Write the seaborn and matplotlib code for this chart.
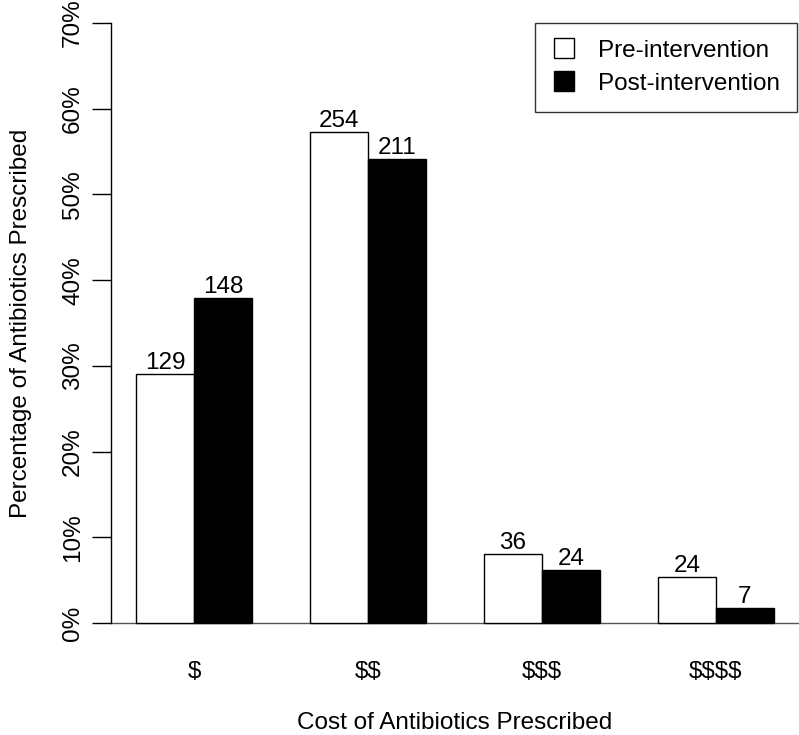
import numpy as np
import pandas as pd
import seaborn as sns
import matplotlib.pyplot as plt
from matplotlib.lines import Line2D

## Values
cost_levels = ['$', '$$', '$$$', '$$$$']
pre_pct = [29.1, 57.3, 8.1, 5.4]
post_pct = [37.9, 54.1, 6.2, 1.8]
pre_counts = [129, 254, 36, 24]
post_counts = [148, 211, 24, 7]
groups = ['Pre-intervention', 'Post-intervention']

df = pd.DataFrame({
    'cost': cost_levels * 2,
    'pct': pre_pct + post_pct,
    'period': [groups[0]] * 4 + [groups[1]] * 4,
})

sns.set_style('white')
plt.rcParams['font.family'] = ['Liberation Sans', 'DejaVu Sans']
plt.rcParams['text.parse_math'] = False
for k in ['text.color', 'axes.labelcolor', 'xtick.color', 'ytick.color']:
    plt.rcParams[k] = 'black'
FS = 17.5

fig = plt.figure(figsize=(7.99, 7.35), dpi=100)
W, H = 799, 735
ax = fig.add_axes([110.5 / W, (H - 647) / H, 689 / W, 648 / H])

sns.barplot(data=df, x='cost', y='pct', hue='period', order=cost_levels,
            hue_order=groups, palette=['white', 'black'], edgecolor='black',
            linewidth=1, width=2 / 3, gap=0, dodge=True, ax=ax, legend=False,
            saturation=1)

for cont, counts in zip(ax.containers, [pre_counts, post_counts]):
    ax.bar_label(cont, labels=[str(c) for c in counts], padding=0,
                 fontsize=FS, color='black')

ax.axhline(0, color='#555555', lw=1, zorder=0)
ax.set_xlim(-0.48, 3.48)
ax.set_ylim(-2.8, 72.8)
ax.set_yticks(np.arange(0, 71, 10))
ax.set_yticklabels(['{0}%'.format(v) for v in range(0, 71, 10)],
                   rotation=90, va='center', fontsize=FS)
ax.tick_params(axis='y', length=14, width=1, pad=5, left=True, color='black')
ax.tick_params(axis='x', length=0, pad=10, labelsize=FS)

for s in ['top', 'right', 'bottom']:
    ax.spines[s].set_visible(False)
ax.spines['left'].set_bounds(0, 70)
ax.spines['left'].set_color('black')
ax.spines['left'].set_linewidth(1)

ax.set_xlabel('Cost of Antibiotics Prescribed', fontsize=FS, labelpad=21)
ax.set_ylabel('Percentage of Antibiotics Prescribed', fontsize=FS, labelpad=22)

handles = [Line2D([], [], marker='s', ls='none', markersize=15,
                  markerfacecolor=c, markeredgecolor='black')
           for c in ['white', 'black']]
leg = ax.legend(handles, groups, loc='upper right', fontsize=FS,
                frameon=True, fancybox=False, edgecolor='black',
                bbox_to_anchor=(0.9964, 0.963), borderaxespad=0,
                handletextpad=0.9, borderpad=0.7, labelspacing=0.45,
                handlelength=1.0)
leg.get_frame().set_linewidth(1)

fig.savefig('out.png', dpi=100)
